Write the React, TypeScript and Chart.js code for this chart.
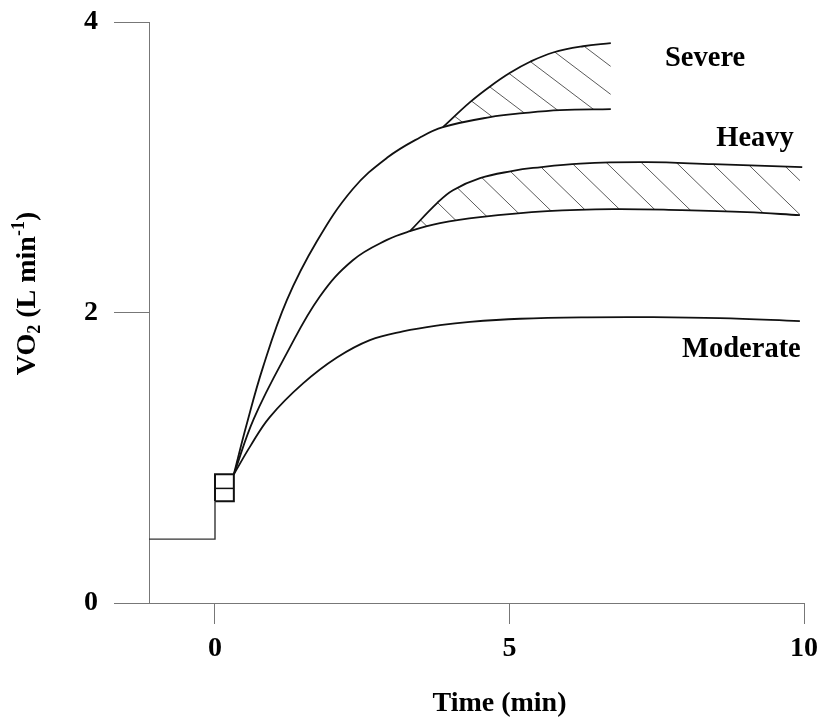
import React, { useEffect, useRef } from 'react';
import { Chart, registerables } from 'chart.js';

Chart.register(...registerables);

// ---- tick values ----
const xTicks = [0, 5, 10];
const yTicks = [0, 2, 4];

// ---- baseline (unloaded) and transition box ----
const baselineTime = [-1.12, 0, 0];
const baselineVO2 = [0.44, 0.44, 0.7];

const boxTime = [0, 0.32, 0.32, 0, 0];
const boxVO2 = [0.7, 0.7, 0.886, 0.886, 0.7];
const boxMidTime = [0, 0.32];
const boxMidVO2 = [0.789, 0.789];

// ---- moderate ----
const moderateTime = [0.32, 0.6, 0.93, 1.49, 2.07, 2.63, 3.19, 3.82, 4.33, 5.18, 6.32, 7.44, 8.57, 9.93];
const moderateVO2 = [0.886, 1.08, 1.28, 1.51, 1.69, 1.81, 1.87, 1.913, 1.936, 1.957, 1.967, 1.968, 1.961, 1.941];

// ---- heavy (primary) ----
const heavyTime = [0.32, 0.66, 1.22, 1.78, 2.34, 2.92, 3.31, 3.82, 4.5, 5.64, 6.76, 7.9, 9.03, 9.93];
const heavyVO2 = [0.886, 1.27, 1.72, 2.11, 2.36, 2.5, 2.56, 2.615, 2.657, 2.698, 2.712, 2.705, 2.691, 2.67];

// ---- heavy (slow component) ----
const heavySlowTime = [3.31, 3.77, 4.04, 4.5, 5.06, 5.4, 6.2, 7.33, 8.46, 9.97];
const heavySlowVO2 = [2.56, 2.753, 2.842, 2.925, 2.975, 2.995, 3.025, 3.035, 3.021, 3.001];

// ---- severe (primary) ----
const severeTime = [0.32, 0.53, 0.815, 1.22, 1.73, 2.34, 2.92, 3.48, 3.87, 4.67, 5.23, 5.86, 6.72];
const severeVO2 = [0.886, 1.218, 1.624, 2.085, 2.49, 2.85, 3.065, 3.205, 3.276, 3.345, 3.372, 3.393, 3.4];

// ---- severe (slow component) ----
const severeSlowTime = [3.87, 4.33, 4.67, 5.01, 5.35, 5.74, 6.25, 6.72];
const severeSlowVO2 = [3.276, 3.448, 3.556, 3.65, 3.726, 3.79, 3.833, 3.854];

// ---- curve labels ----
const curveLabels = ['Severe', 'Heavy', 'Moderate'];
const curveLabelTime = [7.64, 8.51, 7.93];
const curveLabelVO2 = [3.696, 3.145, 1.693];

const FONT = '"Liberation Serif", "Times New Roman", serif';

const pts = (xs: number[], ys: number[]) => xs.map((x, i) => ({ x, y: ys[i] }));

function makeHatch(ctx: CanvasRenderingContext2D, w: number, h: number, tx: number) {
  const c = document.createElement('canvas');
  c.width = w;
  c.height = h;
  const g = c.getContext('2d')!;
  g.strokeStyle = '#5a5a5a';
  g.lineWidth = 1;
  for (let n = -1; n <= 1; n++) {
    g.beginPath();
    g.moveTo(-w, -h + n * h);
    g.lineTo(2 * w, 2 * h + n * h);
    g.stroke();
  }
  const p = ctx.createPattern(c, 'repeat')!;
  try {
    p.setTransform(new DOMMatrix().translate(tx, 0));
  } catch (e) {}
  return p;
}

const textPlugin = {
  id: 'texts',
  afterDraw(chart: any) {
    const { ctx } = chart;
    const xs = chart.scales.x;
    const ys = chart.scales.y;
    ctx.save();
    ctx.fillStyle = '#000';
    ctx.textBaseline = 'alphabetic';
    ctx.textAlign = 'left';
    ctx.font = `bold 28.5px ${FONT}`;
    curveLabels.forEach((t, i) => {
      ctx.fillText(t, xs.getPixelForValue(curveLabelTime[i]), ys.getPixelForValue(curveLabelVO2[i]));
    });
    // x title
    ctx.textAlign = 'center';
    ctx.font = `bold 28px ${FONT}`;
    ctx.fillText('Time (min)', 499.5, 711);
    // y title with sub/superscript
    ctx.translate(35, 293.5);
    ctx.rotate(-Math.PI / 2);
    ctx.textAlign = 'left';
    const parts = [
      { t: 'VO', s: 28, dy: 0 },
      { t: '2', s: 18, dy: 5 },
      { t: ' (L min', s: 28, dy: 0 },
      { t: '-1', s: 18, dy: -11 },
      { t: ')', s: 28, dy: 0 },
    ];
    let total = 0;
    parts.forEach((p) => {
      ctx.font = `bold ${p.s}px ${FONT}`;
      total += ctx.measureText(p.t).width;
    });
    let x = -total / 2;
    parts.forEach((p) => {
      ctx.font = `bold ${p.s}px ${FONT}`;
      ctx.fillText(p.t, x, p.dy);
      x += ctx.measureText(p.t).width;
    });
    ctx.restore();
  },
};

export default function App() {
  const ref = useRef<HTMLCanvasElement | null>(null);
  useEffect(() => {
    const canvas = ref.current!;
    const ctx = canvas.getContext('2d')!;
    const severeHatch = makeHatch(ctx, 37, 28, 375);
    const heavyHatch = makeHatch(ctx, 35, 34, 439);
    const line = (data: any, extra: any = {}) => ({
      data,
      borderColor: '#111',
      borderWidth: 1.8,
      pointRadius: 0,
      fill: false,
      tension: 0,
      ...extra,
    });
    const curve = { tension: 0.4 };
    const chart = new Chart(ctx, {
      type: 'line',
      data: {
        datasets: [
          line(pts(baselineTime, baselineVO2), { borderColor: '#333', borderWidth: 1.4 }),
          line(pts(boxTime, boxVO2), { borderWidth: 2 }),
          line(pts(boxMidTime, boxMidVO2), { borderWidth: 1.5 }),
          line(pts(moderateTime, moderateVO2), curve),
          line(pts(heavyTime, heavyVO2), curve),
          line(pts(heavySlowTime, heavySlowVO2), { ...curve, fill: 4, backgroundColor: heavyHatch }),
          line(pts(severeTime, severeVO2), curve),
          line(pts(severeSlowTime, severeSlowVO2), { ...curve, fill: 6, backgroundColor: severeHatch }),
        ],
      },
      options: {
        animation: false,
        responsive: false,
        events: [],
        layout: { padding: { top: 22, right: 15, bottom: 0, left: 0 } },
        plugins: { legend: { display: false }, tooltip: { enabled: false }, title: { display: false } },
        scales: {
          x: {
            type: 'linear',
            min: -1.1205,
            max: 10,
            afterBuildTicks: (s: any) => {
              s.ticks = xTicks.map((v) => ({ value: v }));
            },
            afterFit: (s: any) => {
              s.height = 119;
              s.paddingLeft = 0;
              s.paddingRight = 0;
            },
            ticks: {
              autoSkip: false,
              maxRotation: 0,
              padding: 8,
              color: '#000',
              font: { family: FONT, size: 28, weight: 'bold' },
              callback: (v: any) => String(v),
            },
            grid: { drawOnChartArea: false, drawTicks: true, tickLength: 21, color: '#777', lineWidth: 1 },
            border: { display: true, color: '#777', width: 1 },
          },
          y: {
            type: 'linear',
            min: 0,
            max: 4,
            afterBuildTicks: (s: any) => {
              s.ticks = yTicks.map((v) => ({ value: v }));
            },
            afterFit: (s: any) => {
              s.width = 149;
              s.paddingTop = 0;
              s.paddingBottom = 0;
            },
            ticks: {
              padding: 16,
              color: '#000',
              font: { family: FONT, size: 28, weight: 'bold' },
              callback: (v: any) => String(v),
            },
            grid: { drawOnChartArea: false, drawTicks: true, tickLength: 35, color: '#777', lineWidth: 1 },
            border: { display: true, color: '#777', width: 1 },
          },
        },
      } as any,
      plugins: [textPlugin],
    });
    return () => chart.destroy();
  }, []);
  return (
    <canvas
      ref={ref}
      width={819}
      height={722}
      style={{ position: 'absolute', left: 0, top: 0, display: 'block' }}
    />
  );
}
